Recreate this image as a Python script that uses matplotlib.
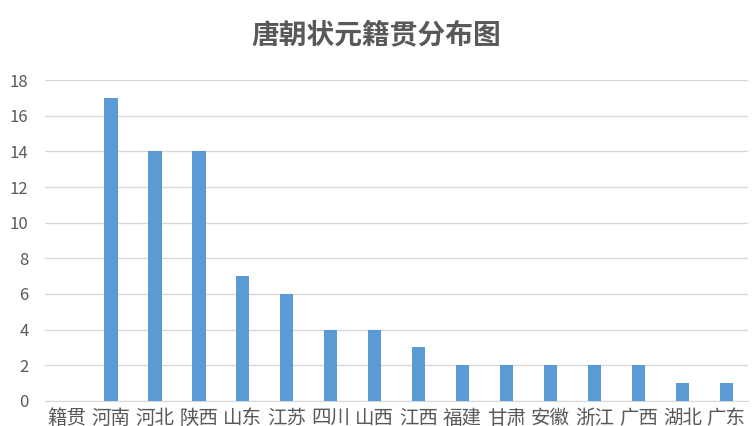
import matplotlib
matplotlib.use("Agg")
import matplotlib.pyplot as plt

plt.rcParams['font.family'] = ['Noto Sans CJK SC', 'DejaVu Sans']
categories = ['籍贯','河南','河北','陕西','山东','江苏','四川','山西','江西','福建','甘肃','安徽','浙江','广西','湖北','广东']
values = [0,17,14,14,7,6,4,4,3,2,2,2,2,2,1,1]

fig = plt.figure(figsize=(7.52,4.26), dpi=100)
ax = fig.add_axes([0.06, 0.059, 0.935, 0.753])
x = range(len(categories))
ax.bar(x, values, width=0.3, color='#5B9BD5', zorder=3)
ax.set_xlim(-0.5, len(categories)-0.5)
ax.set_ylim(0, 18)
ax.set_yticks(range(0, 19, 2))
ax.set_xticks(list(x))
ax.set_xticklabels(categories, fontsize=14, color='#595959')
ax.tick_params(axis='y', labelsize=12, colors='#595959', length=0, pad=12)
ax.tick_params(axis='x', length=0, pad=5)
ax.grid(axis='y', color='#D9D9D9', linewidth=1, zorder=0)
for s in ['top','right','left']:
    ax.spines[s].set_visible(False)
ax.spines['bottom'].set_color('#D9D9D9')
fig.text(0.5, 0.918, '唐朝状元籍贯分布图', ha='center', va='center', fontsize=20, color='#595959', fontweight='bold')
fig.savefig('out.png', dpi=100)
